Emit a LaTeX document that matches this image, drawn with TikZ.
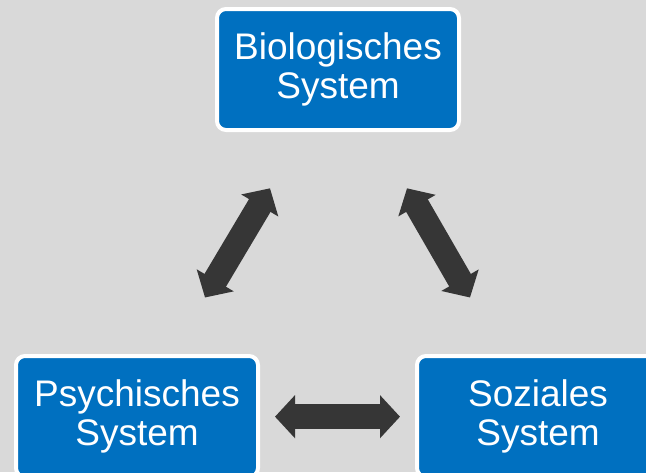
\documentclass[tikz,border=0pt]{standalone}
\usepackage{fontspec}
\setmainfont{Liberation Sans}
\usetikzlibrary{arrows.meta}
\definecolor{bg}{HTML}{D9D9D9}
\definecolor{boxblue}{HTML}{0070C0}
\definecolor{arrowgray}{HTML}{363636}
\begin{document}
\begin{tikzpicture}[x=1pt,y=-1pt,
  sysbox/.style={draw=white, line width=4pt, fill=boxblue, rounded corners=9pt,
    minimum width=242pt, minimum height=121pt, inner sep=0pt, text=white,
    align=center, font=\fontsize{37}{39}\selectfont},
  bigarrow/.style={draw=arrowgray, line width=25pt,
    {Triangle[width=42pt,length=20pt]}-{Triangle[width=42pt,length=20pt]}}]
\fill[bg] (0,0) rectangle (646,472);
\useasboundingbox (0,0) rectangle (646,472);
\clip (0,0) rectangle (646,472);
\node[sysbox] (bio) at (338,69.5) {Biologisches\\System};
\node[sysbox] (psy) at (137,416.5) {Psychisches\\System};
\node[sysbox] (soz) at (538,416.5) {Soziales\\System};
\coordinate (lt) at (270,188.3);
\coordinate (lb) at (205,297.5);
\coordinate (rt) at (407,188.3);
\coordinate (rb) at (470,297.5);
\coordinate (hl) at (275,416.7);
\coordinate (hr) at (400,416.7);
\draw[bigarrow] (lb) -- (lt);
\draw[bigarrow] (rt) -- (rb);
\draw[bigarrow] (hl) -- (hr);
\end{tikzpicture}
\end{document}
